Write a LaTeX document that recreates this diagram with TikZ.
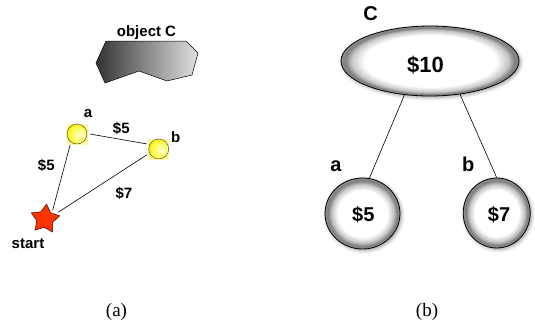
\documentclass[tikz,border=0pt]{standalone}
\usepackage{fontspec}
\setmainfont{Liberation Serif}
\newfontfamily\hv{Liberation Sans}
\usetikzlibrary{shapes.geometric,shadows.blur}
\definecolor{starred}{HTML}{FF3300}
\pgfdeclareradialshading{ringc}{\pgfpointorigin}{color(0bp)=(white); color(16.5bp)=(white); color(20.5bp)=(black!22); color(23bp)=(black!50); color(25bp)=(black!45); color(50bp)=(black!45)}
\pgfdeclareradialshading{ringe}{\pgfpointorigin}{color(0bp)=(white); color(18.5bp)=(white); color(22bp)=(black!22); color(23.8bp)=(black!50); color(25bp)=(black!45); color(50bp)=(black!45)}
\pgfdeclareradialshading{yball}{\pgfpoint{8bp}{-3bp}}{color(0bp)=(white); color(3bp)=(yellow!25); color(18bp)=(yellow!65); color(30bp)=(yellow!85!orange); color(50bp)=(yellow!85!orange)}
\begin{document}
\begin{tikzpicture}[x=1pt,y=-1pt,
 lbl/.style={font=\hv\bfseries\fontsize{15}{15}\selectfont, inner sep=0, anchor=base},
 rlbl/.style={font=\hv\bfseries\fontsize{20}{20}\selectfont, inner sep=0, anchor=base},
 ball/.style={circle, draw=black!80, line width=0.4pt, shading=yball, minimum size=20pt, inner sep=0, outer sep=3pt},
 ringnode/.style={draw=black, line width=0.8pt, inner sep=0, blur shadow={shadow xshift=1.5pt, shadow yshift=-1.5pt, shadow blur radius=3.5pt, shadow opacity=40}},
 edge/.style={draw=black, line width=0.6pt},
 captxt/.style={font=\fontsize{19}{19}\selectfont, inner sep=0, anchor=base}]
\useasboundingbox (0,0) rectangle (535,322);
% left panel
\shade[left color=black!80, right color=black!12, draw=black, line width=0.5pt]
  (106,41) -- (186,41) -- (198,53) -- (192,75) -- (167,81) -- (139,71) -- (105,83) -- (96,63) -- cycle;
\node[lbl] (ocl) at (146.5,36.7) {object C};
\fill[yellow!35] (66.5,123.5) rectangle (87.5,144.5);
\fill[yellow!35] (148.2,138.5) rectangle (169.2,159.5);
\node[ball] (a) at (77,134) {};
\node[ball] (b) at (158.7,149) {};
\node[star, star points=5, star point ratio=1.8, minimum size=30pt, inner sep=0, outer sep=3pt, fill=starred, draw=black!70!red, line width=0.5pt, rotate=-6] (start) at (45,219) {};
\draw[edge] (a.238) -- (start.55);
\draw[edge] (a.0) -- (b.157);
\draw[edge] (b.206) -- (start.33);
\node[lbl] (la) at (88,117.7) {a};
\node[lbl] (lb) at (175.7,142.3) {b};
\node[lbl] (l5a) at (121.3,133.3) {\$5};
\node[lbl] (l5b) at (46.3,170.7) {\$5};
\node[lbl] (l7) at (124,198) {\$7};
\node[lbl] (ls) at (28,248.3) {start};
% right panel
\node[ringnode, ellipse, shading=ringe, minimum width=178pt, minimum height=70pt] (C) at (430,61) {};
\node[rlbl, font=\hv\bfseries\fontsize{22}{22}\selectfont] (t10) at (425.5,72.7) {\$10};
\node[ringnode, ellipse, shading=ringc, minimum width=75pt, minimum height=71pt] (ra) at (362.5,213.5) {};
\node[ringnode, ellipse, shading=ringc, minimum width=67pt, minimum height=70pt] (rb) at (496.7,213) {};
\node[rlbl] (t5) at (363.3,221.7) {\$5};
\node[rlbl] (t7) at (499,221.7) {\$7};
\node[rlbl] (lC) at (370.7,20.7) {C};
\node[rlbl] (lra) at (336,171.7) {a};
\node[rlbl] (lrb) at (468.3,171.7) {b};
\draw[edge] (C.233) -- (ra.79);
\draw[edge] (C.312) -- (rb.90);
% captions
\node[captxt] (capa) at (116.5,316) {(a)};
\node[captxt] (capb) at (427,316) {(b)};
\end{tikzpicture}
\end{document}
